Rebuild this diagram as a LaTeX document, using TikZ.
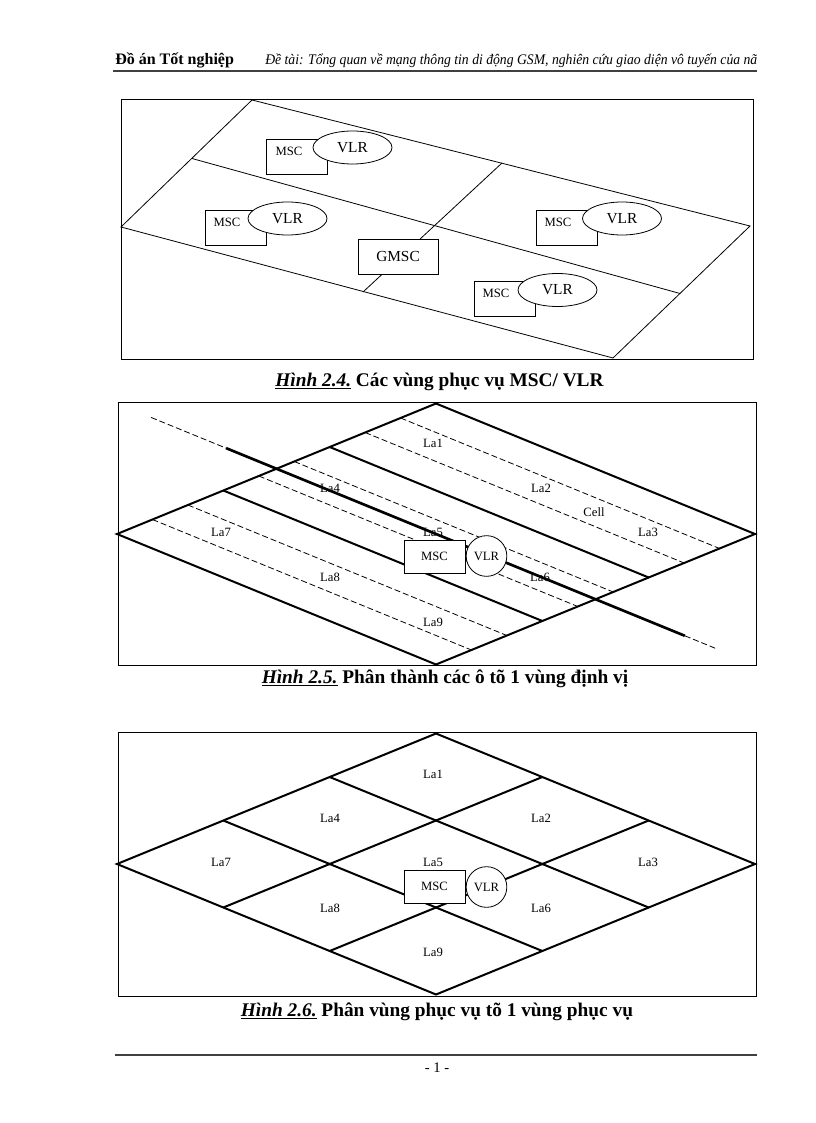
\documentclass[tikz,border=0pt]{standalone}
\usepackage{fontspec}
\setmainfont{Liberation Serif}
\usetikzlibrary{calc,shapes.geometric}
\begin{document}
\begin{tikzpicture}[x=0.75pt,y=-0.75pt,
  frameline/.style={draw,line width=0.7pt},
  fineline/.style={draw,line width=0.6pt},
  boldline/.style={draw,line width=1.5pt},
  roadline/.style={draw,line width=2pt},
  cutline/.style={draw,line width=0.6pt,dash pattern=on 4.5pt off 2.2pt},
  mscbox/.style={draw,fill=white,line width=0.6pt,minimum width=45.75pt,minimum height=26.25pt,inner sep=0pt},
  gmscbox/.style={draw,fill=white,line width=0.6pt,minimum width=60pt,minimum height=26.25pt,inner sep=0pt,font=\fontsize{11.5}{12}\selectfont},
  vlrell/.style={ellipse,draw,fill=white,line width=0.6pt,minimum width=59.25pt,minimum height=24.75pt,inner sep=0pt,font=\fontsize{11.5}{12}\selectfont},
  smalltxt/.style={inner sep=0pt,font=\fontsize{9.5}{10}\selectfont},
  latxt/.style={inner sep=0pt,font=\fontsize{9.5}{10}\selectfont},
  mscb/.style={draw,fill=white,line width=0.6pt,minimum width=45.75pt,minimum height=24.75pt,inner sep=0pt,font=\fontsize{9.5}{10}\selectfont},
  vlrc/.style={circle,draw,fill=white,line width=0.6pt,minimum size=30.5pt,inner sep=0pt,font=\fontsize{9.5}{10}\selectfont},
  captxt/.style={anchor=base,inner sep=0pt,font=\fontsize{14.5}{16}\selectfont\bfseries}
]
\useasboundingbox[fill=white] (0,0) rectangle (816,1123);

% ---------- header ----------
\node[anchor=base west,inner sep=0pt,font=\fontsize{12}{14}\selectfont\bfseries] (htitle) at (115,65) {Đồ án Tốt nghiệp};
\node[anchor=base west,inner sep=0pt,font=\fontsize{11}{13}\selectfont\itshape] (hsub) at (265,65)
  {\resizebox{369pt}{\height}{Đề tài: Tổng quan về mạng thông tin di động GSM, nghiên cứu giao diện vô tuyến của nã}};
\coordinate (hr1) at (113,71);
\coordinate (hr2) at (757,71);
\draw[line width=0.9pt,black!75] (hr1) -- (hr2);

% ---------- Figure 2.4 ----------
\draw[frameline] (121,99) rectangle (753,359);
\coordinate (a1) at (252,100);
\coordinate (a2) at (750,226);
\coordinate (a3) at (121,227);
\coordinate (a4) at (613,358);
\coordinate (a5) at (192,158.5);
\coordinate (a6) at (680,293.5);
\coordinate (a7) at (502,163);
\coordinate (a8) at (363,292);
\draw[fineline] (a1) -- (a2) -- (a4) -- (a3) -- cycle;
\draw[fineline] (a5) -- (a6);
\draw[fineline] (a7) -- (a8);

\node[mscbox] (m1) at (297,156.5) {};
\node[smalltxt] (m1t) at (289,151.5) {MSC};
\node[vlrell] (v1) at (352.5,147.5) {VLR};

\node[mscbox] (m2) at (235.5,227.5) {};
\node[smalltxt] (m2t) at (227,222.5) {MSC};
\node[vlrell] (v2) at (287.5,218.5) {VLR};

\node[mscbox] (m3) at (566.5,227.5) {};
\node[smalltxt] (m3t) at (558,222.5) {MSC};
\node[vlrell] (v3) at (622,218.5) {VLR};

\node[mscbox] (m4) at (504.5,298.5) {};
\node[smalltxt] (m4t) at (496,293.5) {MSC};
\node[vlrell] (v4) at (557.5,290) {VLR};

\node[gmscbox] (g1) at (398,256.5) {GMSC};

\node[captxt] (cap4) at (439.5,386) {\underline{\itshape Hình 2.4.} Các vùng phục vụ MSC/ VLR};

% ---------- Figure 2.5 ----------
\draw[frameline] (118,402) rectangle (756,665);
\coordinate (bL) at (117,534);
\coordinate (bT) at (436,403.5);
\coordinate (bR) at (755,534);
\coordinate (bB) at (436,664.5);
\foreach \f in {1,2,4,5,7,8}
  \draw[cutline] ($(bT)!\f/9!(bL)$) -- ($(bR)!\f/9!(bB)$);
\coordinate (bm1) at ($(bT)!0.5!(bL)$);
\coordinate (bm2) at ($(bR)!0.5!(bB)$);
\coordinate (r0) at ($(bm1)!-0.393!(bm2)$);
\coordinate (r1) at ($(bm1)!-0.158!(bm2)$);
\coordinate (r2) at ($(bm1)!1.28!(bm2)$);
\coordinate (r3) at ($(bm1)!1.38!(bm2)$);
\draw[cutline] (r0) -- (r1);
\draw[roadline] (r1) -- (r2);
\draw[cutline] (r2) -- (r3);
\draw[boldline] (bL) -- (bT) -- (bR) -- (bB) -- cycle;
\foreach \f in {1,2}
  \draw[boldline] ($(bT)!\f/3!(bL)$) -- ($(bR)!\f/3!(bB)$);

\node[latxt] (b1) at (433,443) {La1};
\node[latxt] (b2) at (541,488) {La2};
\node[latxt] (b3) at (648,532) {La3};
\node[latxt] (b4) at (330,488) {La4};
\node[latxt] (b5) at (433,532) {La5};
\node[latxt] (b6) at (540,577) {La6};
\node[latxt] (b7) at (221,532) {La7};
\node[latxt] (b8) at (330,577) {La8};
\node[latxt] (b9) at (433,622) {La9};
\node[latxt] (bc) at (594,512) {Cell};
\node[mscb] (bmsc) at (434.5,556.5) {MSC};
\node[vlrc] (bvlr) at (486.5,556) {VLR};

\node[captxt] (cap5) at (445,683) {\underline{\itshape Hình 2.5.} Phân thành các ô tõ 1 vùng định vị};

% ---------- Figure 2.6 ----------
\draw[frameline] (118,732) rectangle (756,996);
\coordinate (cL) at (117,864);
\coordinate (cT) at (436,733.5);
\coordinate (cR) at (755,864);
\coordinate (cB) at (436,994.5);
\draw[boldline] (cL) -- (cT) -- (cR) -- (cB) -- cycle;
\foreach \f in {1,2} {
  \draw[boldline] ($(cT)!\f/3!(cL)$) -- ($(cR)!\f/3!(cB)$);
  \draw[boldline] ($(cT)!\f/3!(cR)$) -- ($(cL)!\f/3!(cB)$);
}
\node[latxt] (c1) at (433,774) {La1};
\node[latxt] (c2) at (541,818) {La2};
\node[latxt] (c3) at (648,862) {La3};
\node[latxt] (c4) at (330,818) {La4};
\node[latxt] (c5) at (433,862) {La5};
\node[latxt] (c6) at (541,908) {La6};
\node[latxt] (c7) at (221,862) {La7};
\node[latxt] (c8) at (330,908) {La8};
\node[latxt] (c9) at (433,952) {La9};
\node[mscb] (cmsc) at (434.5,886.5) {MSC};
\node[vlrc] (cvlr) at (486.5,887) {VLR};

\node[captxt] (cap6) at (437,1016) {\underline{\itshape Hình 2.6.} Phân vùng phục vụ tõ 1 vùng phục vụ};

% ---------- footer ----------
\coordinate (fr1) at (115,1055);
\coordinate (fr2) at (757,1055);
\draw[line width=0.9pt,black!75] (fr1) -- (fr2);
\node[anchor=base,inner sep=0pt,font=\fontsize{11}{13}\selectfont] (pg) at (437,1072) {- 1 -};
\end{tikzpicture}
\end{document}
